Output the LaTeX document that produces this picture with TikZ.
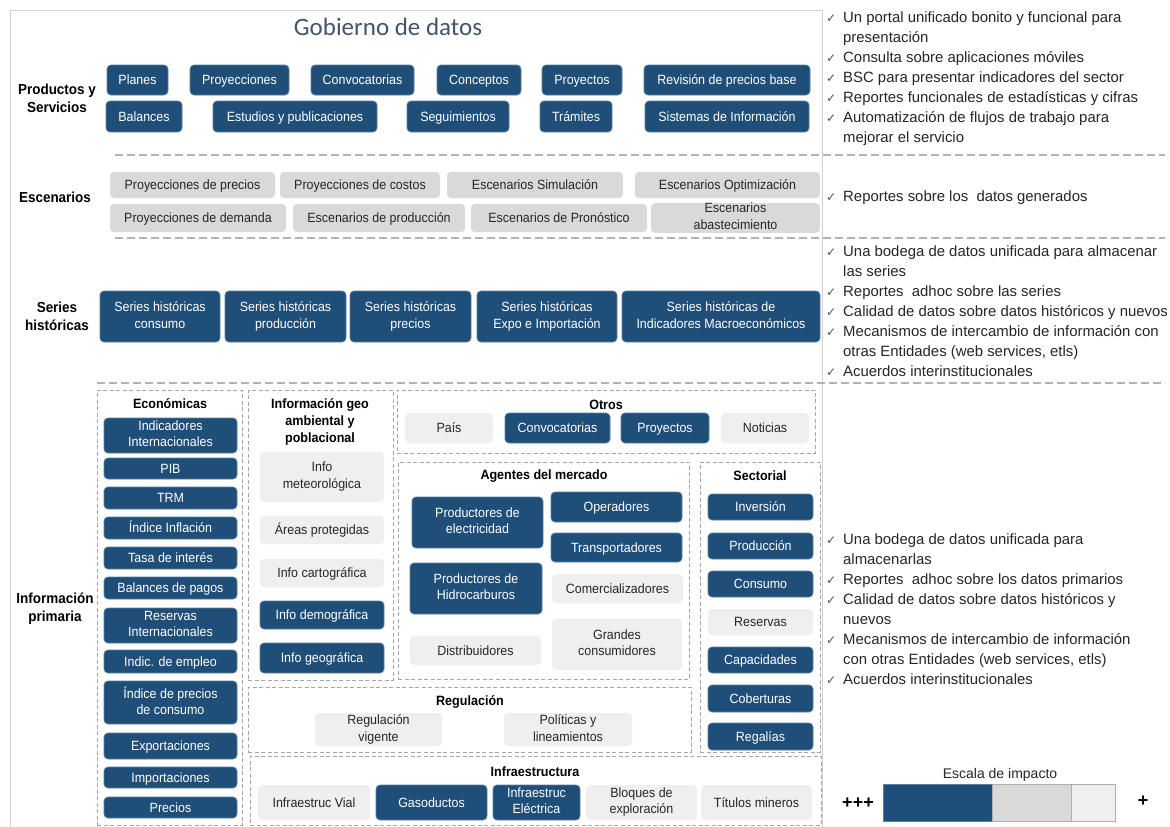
\documentclass[tikz,border=0pt]{standalone}
\usepackage{fontspec}
\setmainfont{Liberation Sans}
\newfontfamily\nf[FakeStretch=0.93]{Liberation Sans}
\newfontfamily\ttlf{Carlito}
\newfontfamily\dvf{DejaVu Sans}
\definecolor{dkblue}{HTML}{1F4E79}
\definecolor{dkedge}{HTML}{5C7FA3}
\definecolor{mdgray}{HTML}{D9D9D9}
\definecolor{ltgray}{HTML}{EFEFEF}
\definecolor{txtgray}{HTML}{262626}
\definecolor{ckgray}{HTML}{505050}
\definecolor{ttlcol}{HTML}{44546A}
\definecolor{dashcol}{HTML}{A6A6A6}
\definecolor{framecol}{HTML}{D0D0D0}
\newcommand\mkbox[7]{\node[#1,minimum width={(#5-#3)*1pt},minimum height={(#6-#4)*1pt}] (#2) at ({(#3+#5)/2},{(#4+#6)/2}) {#7};}
\newcommand\ck{\makebox[17pt][l]{\dvf\fontsize{12}{12}\selectfont\color{ckgray}✓}}
\newcommand\ind{\hspace*{17pt}}
\newcommand\bxst{\rule[-3.3pt]{0pt}{16.5pt}}
\tikzset{
  bx/.style={align=center,inner sep=0pt,rounded corners=4pt,font=\nf\fontsize{13.4}{16.5}\selectfont,
    execute at begin node={\bxst},execute at end node={\bxst}},
  dk/.style={bx,fill=dkblue,draw=dkedge,line width=0.7pt,text=white},
  md/.style={bx,fill=mdgray,draw=none,text=txtgray},
  lt/.style={bx,fill=ltgray,draw=none,text=txtgray},
  grp/.style={draw=dashcol,dash pattern=on 4pt off 2.5pt,line width=0.9pt,inner sep=0pt},
  sep/.style={draw=dashcol!85,dash pattern=on 8pt off 4pt,line width=1.6pt},
  gtitle/.style={font=\nf\bfseries\fontsize{13.5}{17}\selectfont,text=black,align=center,inner sep=0pt},
  side/.style={font=\nf\bfseries\fontsize{14.5}{18}\selectfont,text=black,align=center,inner sep=0pt},
  rtxt/.style={font=\fontsize{14.9}{20}\selectfont,text=txtgray,align=left,inner sep=0pt,anchor=north west}
}
\begin{document}
\begin{tikzpicture}[x=1pt,y=-1pt]
\useasboundingbox (0,0) rectangle (1170,827);
\fill[white] (0,0) rectangle (1170,827);
% frame
\coordinate (fbl) at (10,830);
\coordinate (ftl) at (10,10);
\coordinate (ftr) at (822,10);
\coordinate (fbr) at (822,830);
\draw[framecol,line width=1pt] (fbl) -- (ftl) -- (ftr) -- (fbr);
% title
\node[font=\ttlf\fontsize{25}{30}\selectfont,text=ttlcol] (title) at (388,27) {Gobierno de datos};
% separators
\coordinate (s1a) at (115,155); \coordinate (s1b) at (1165,155);
\coordinate (s2a) at (115,238); \coordinate (s2b) at (1165,238);
\coordinate (s3a) at (97,383); \coordinate (s3b) at (1165,383);
\draw[sep] (s1a) -- (s1b);
\draw[sep] (s2a) -- (s2b);
\draw[sep] (s3a) -- (s3b);
% left labels
\node[side] (lprod) at (57,98) {Productos y\\Servicios};
\node[side] (lesc) at (55,197) {Escenarios};
\node[side] (lser) at (57,316) {Series\\históricas};
\node[side] (lprim) at (55,609) {Información\\primaria};
% productos
\mkbox{dk}{planes}{107}{65}{168}{95}{Planes}
\mkbox{dk}{proy}{190}{65}{289}{95}{Proyecciones}
\mkbox{dk}{convoc}{311}{65}{414}{95}{Convocatorias}
\mkbox{dk}{concep}{437}{65}{521}{95}{Conceptos}
\mkbox{dk}{proyectos}{542}{65}{622}{95}{Proyectos}
\mkbox{dk}{revision}{644}{65}{810}{95}{Revisión de precios base}
\mkbox{dk}{balances}{106}{101}{182}{132}{Balances}
\mkbox{dk}{estudios}{213}{101}{377}{132}{Estudios y publicaciones}
\mkbox{dk}{seguim}{407}{101}{509}{132}{Seguimientos}
\mkbox{dk}{tramites}{540}{101}{612}{132}{Trámites}
\mkbox{dk}{sistemas}{645}{101}{809}{132}{Sistemas de Información}
% escenarios
\mkbox{md}{e1}{110}{172}{275}{198}{Proyecciones de precios}
\mkbox{md}{e2}{280}{172}{440}{198}{Proyecciones de costos}
\mkbox{md}{e3}{447}{172}{623}{198}{Escenarios Simulación}
\mkbox{md}{e4}{635}{172}{820}{198}{Escenarios Optimización}
\mkbox{md}{e5}{110}{204}{286}{232}{Proyecciones de demanda}
\mkbox{md}{e6}{293}{204}{465}{232}{Escenarios de producción}
\mkbox{md}{e7}{471}{204}{647}{232}{Escenarios de Pronóstico}
\mkbox{md}{e8}{651}{204}{820}{232}{Escenarios\\abastecimiento}
% series
\mkbox{dk}{s1}{100}{291}{220}{342}{Series históricas\\consumo}
\mkbox{dk}{s2}{225}{291}{346}{342}{Series históricas\\producción}
\mkbox{dk}{s3}{350}{291}{471}{342}{Series históricas\\precios}
\mkbox{dk}{s4}{477}{291}{617}{342}{Series históricas\\Expo e Importación}
\mkbox{dk}{s5}{622}{291}{820}{342}{Series históricas de\\Indicadores Macroeconómicos}
% group boxes
\mkbox{grp}{geco}{97}{390}{242}{825}{}
\mkbox{grp}{ggeo}{248}{390}{393}{680}{}
\mkbox{grp}{gotros}{397}{390}{815}{453}{}
\mkbox{grp}{gagen}{398}{462}{689}{679}{}
\mkbox{grp}{gsect}{700}{462}{820}{752}{}
\mkbox{grp}{greg}{248}{687}{691}{752}{}
\mkbox{grp}{ginfra}{250}{756}{821}{825}{}
% group titles
\node[gtitle] (teco) at (170,404) {Económicas};
\node[gtitle] (tgeo) at (320,422) {Información geo\\ambiental y\\poblacional};
\node[gtitle] (totros) at (606,405) {Otros};
\node[gtitle] (tagen) at (544,476) {Agentes del mercado};
\node[gtitle] (tsect) at (760,476) {Sectorial};
\node[gtitle] (treg) at (470,702) {Regulación};
\node[gtitle] (tinfra) at (535,772) {Infraestructura};
% economicas
\mkbox{dk}{ec1}{104}{418}{237}{453}{Indicadores\\Internacionales}
\mkbox{dk}{ec2}{104}{458}{237}{479}{PIB}
\mkbox{dk}{ec3}{104}{487}{237}{509}{TRM}
\mkbox{dk}{ec4}{104}{517}{237}{539}{Índice Inflación}
\mkbox{dk}{ec5}{104}{547}{237}{569}{Tasa de interés}
\mkbox{dk}{ec6}{104}{577}{237}{599}{Balances de pagos}
\mkbox{dk}{ec7}{104}{608}{237}{643}{Reservas\\Internacionales}
\mkbox{dk}{ec8}{104}{650}{237}{673}{Indic. de empleo}
\mkbox{dk}{ec9}{104}{681}{237}{724}{Índice de precios\\de consumo}
\mkbox{dk}{ec10}{104}{733}{237}{759}{Exportaciones}
\mkbox{dk}{ec11}{104}{767}{237}{788}{Importaciones}
\mkbox{dk}{ec12}{104}{797}{237}{818}{Precios}
% geo
\mkbox{lt}{g1}{260}{452}{384}{502}{Info\\meteorológica}
\mkbox{lt}{g2}{260}{516}{384}{544}{Áreas protegidas}
\mkbox{lt}{g3}{260}{559}{384}{587}{Info cartográfica}
\mkbox{dk}{g4}{260}{601}{384}{629}{Info demográfica}
\mkbox{dk}{g5}{260}{643}{384}{673}{Info geográfica}
% otros
\mkbox{lt}{o1}{405}{413}{493}{443}{País}
\mkbox{dk}{o2}{505}{413}{610}{443}{Convocatorias}
\mkbox{dk}{o3}{621}{413}{709}{443}{Proyectos}
\mkbox{lt}{o4}{721}{413}{809}{443}{Noticias}
% agentes
\mkbox{dk}{a1}{412}{497}{543}{548}{Productores de\\electricidad}
\mkbox{dk}{a2}{551}{492}{682}{522}{Operadores}
\mkbox{dk}{a3}{551}{533}{682}{562}{Transportadores}
\mkbox{dk}{a4}{410}{563}{542}{614}{Productores de\\Hidrocarburos}
\mkbox{lt}{a5}{552}{574}{683}{603}{Comercializadores}
\mkbox{lt}{a6}{410}{636}{541}{665}{Distribuidores}
\mkbox{lt}{a7}{552}{619}{682}{670}{Grandes\\consumidores}
% sectorial
\mkbox{dk}{sc1}{708}{494}{813}{520}{Inversión}
\mkbox{dk}{sc2}{708}{533}{813}{559}{Producción}
\mkbox{dk}{sc3}{708}{571}{813}{597}{Consumo}
\mkbox{lt}{sc4}{708}{609}{813}{635}{Reservas}
\mkbox{dk}{sc5}{708}{647}{813}{673}{Capacidades}
\mkbox{dk}{sc6}{708}{685}{813}{712}{Coberturas}
\mkbox{dk}{sc7}{708}{723}{813}{750}{Regalías}
% regulacion
\mkbox{lt}{r1}{315}{713}{442}{746}{Regulación\\vigente}
\mkbox{lt}{r2}{504}{713}{632}{746}{Políticas y\\lineamientos}
% infraestructura
\mkbox{lt}{i1}{258}{785}{370}{820}{Infraestruc Vial}
\mkbox{dk}{i2}{376}{785}{487}{820}{Gasoductos}
\mkbox{dk}{i3}{493}{785}{580}{820}{Infraestruc\\Eléctrica}
\mkbox{lt}{i4}{586}{785}{697}{820}{Bloques de\\exploración}
\mkbox{lt}{i5}{701}{785}{812}{820}{Títulos mineros}
% right texts
\node[rtxt] (rt1) at (826,12) {\ck Un portal unificado bonito y funcional para\\\ind presentación\\\ck Consulta sobre aplicaciones móviles\\\ck BSC para presentar indicadores del sector\\\ck Reportes funcionales de estadísticas y cifras\\\ck Automatización de flujos de trabajo para\\\ind mejorar el servicio};
\node[rtxt] (rt2) at (826,191) {\ck Reportes sobre los\ \ datos generados};
\node[rtxt] (rt3) at (826,245) {\ck Una bodega de datos unificada para almacenar\\\ind las series\\\ck Reportes\ \ adhoc sobre las series\\\ck Calidad de datos sobre datos históricos y nuevos\\\ck Mecanismos de intercambio de información con\\\ind otras Entidades (web services, etls)\\\ck Acuerdos interinstitucionales};
\node[rtxt] (rt4) at (826,533) {\ck Una bodega de datos unificada para\\\ind almacenarlas\\\ck Reportes\ \ adhoc sobre los datos primarios\\\ck Calidad de datos sobre datos históricos y\\\ind nuevos\\\ck Mecanismos de intercambio de información\\\ind con otras Entidades (web services, etls)\\\ck Acuerdos interinstitucionales};
% legend
\node[font=\fontsize{14}{16}\selectfont,text=txtgray] (esc) at (1000,775) {Escala de impacto};
\mkbox{fill=dkblue,draw=dkedge,line width=0.6pt}{lg1}{883}{784}{992}{821}{}
\mkbox{fill=mdgray,draw=mdgray!80!black,line width=0.6pt}{lg2}{992}{784}{1071}{821}{}
\mkbox{fill=ltgray,draw=mdgray!80!black,line width=0.6pt}{lg3}{1071}{784}{1115}{821}{}
\node[font=\bfseries\fontsize{18}{20}\selectfont] (lplus3) at (858,803) {+++};
\node[font=\bfseries\fontsize{18}{20}\selectfont] (lplus1) at (1143,801) {+};
\end{tikzpicture}
\end{document}
